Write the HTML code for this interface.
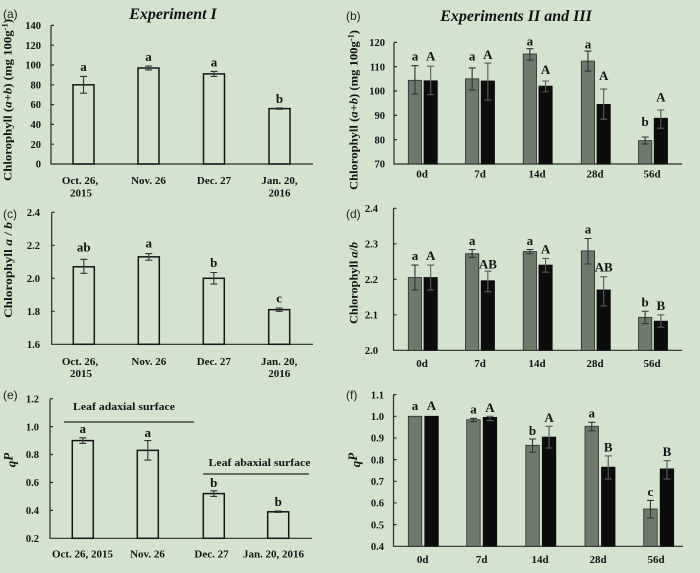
<!DOCTYPE html>
<html>
<head>
<meta charset="utf-8">
<style>
html,body{margin:0;padding:0;background:#d3e3cd;}
svg{display:block;}
text{font-family:"Liberation Serif",serif;fill:#141414;}
.tk{font-size:10.5px;font-weight:bold;text-anchor:end;}
.xl{font-size:11px;font-weight:bold;text-anchor:middle;}
.sg{font-size:13px;font-weight:bold;text-anchor:middle;}
.pl{font-family:"Liberation Sans",sans-serif;font-size:12px;fill:#222;}
.ax{stroke:#263026;stroke-width:1.2;fill:none;}
.ob{fill:none;stroke:#161616;stroke-width:1.5;}
.gb{fill:#6d7a6b;stroke:#2a2a2a;stroke-width:0.8;}
.kb{fill:#0c0c0c;stroke:#0c0c0c;stroke-width:0.8;}
.eb{stroke:#333;stroke-width:1.1;fill:none;}
.ek{stroke:#5a5a5a;stroke-width:1.1;fill:none;}
</style>
</head>
<body>
<svg width="700" height="573" viewBox="0 0 700 573" xmlns="http://www.w3.org/2000/svg">
<rect x="0" y="0" width="700" height="573" fill="#d3e3cd"/>

<!-- Titles -->
<text x="173" y="19" font-size="16" font-weight="bold" font-style="italic" text-anchor="middle">Experiment I</text>
<text x="516" y="21" font-size="16" font-weight="bold" font-style="italic" text-anchor="middle">Experiments II and III</text>

<!-- Panel labels -->
<text class="pl" x="3" y="18">(a)</text>
<text class="pl" x="346" y="20">(b)</text>
<text class="pl" x="3" y="218">(c)</text>
<text class="pl" x="346" y="218">(d)</text>
<text class="pl" x="3" y="399">(e)</text>
<text class="pl" x="346" y="399">(f)</text>

<!-- ================= Panel (a) ================= -->
<text transform="translate(11.5,100) rotate(-90)" text-anchor="middle" font-size="12" font-weight="bold" textLength="162" lengthAdjust="spacingAndGlyphs">Chlorophyll (<tspan font-style="italic">a</tspan>+<tspan font-style="italic">b</tspan>) (mg 100g<tspan dy="-4" font-size="8">-1</tspan><tspan dy="4">)</tspan></text>
<path class="ax" d="M51,25.4 V164 H313"/>
<path class="ax" d="M51,25.4h3M51,45.2h3M51,65h3M51,84.8h3M51,104.6h3M51,124.4h3M51,144.2h3"/>
<text class="tk" x="41" y="29">140</text>
<text class="tk" x="41" y="48.8">120</text>
<text class="tk" x="41" y="68.6">100</text>
<text class="tk" x="41" y="88.4">80</text>
<text class="tk" x="41" y="108.2">60</text>
<text class="tk" x="41" y="128">40</text>
<text class="tk" x="41" y="147.8">20</text>
<text class="tk" x="41" y="167.6">0</text>
<rect class="ob" x="73" y="84.8" width="21" height="79.2"/>
<rect class="ob" x="138" y="68" width="21" height="96"/>
<rect class="ob" x="203.5" y="73.9" width="21" height="90.1"/>
<rect class="ob" x="269" y="108.6" width="21" height="55.4"/>
<path class="eb" d="M83.5,93.2V76.4M80,93.2h7M80,76.4h7"/>
<path class="eb" d="M148.5,69.95V66M145,69.95h7M145,66h7"/>
<path class="eb" d="M214,76.4V71.4M210.5,76.4h7M210.5,71.4h7"/>
<path class="eb" d="M279.5,109.3V107.9M276,109.3h7M276,107.9h7"/>
<text class="sg" x="83.5" y="71">a</text>
<text class="sg" x="148.5" y="61">a</text>
<text class="sg" x="214" y="66.5">a</text>
<text class="sg" x="279.5" y="103">b</text>
<text class="xl" x="80" y="184">Oct. 26,</text>
<text class="xl" x="81" y="196.5">2015</text>
<text class="xl" x="148.5" y="184">Nov. 26</text>
<text class="xl" x="214" y="184">Dec. 27</text>
<text class="xl" x="279.5" y="184">Jan. 20,</text>
<text class="xl" x="279.5" y="196.5">2016</text>

<!-- ================= Panel (b) ================= -->
<text transform="translate(357.5,110) rotate(-90)" text-anchor="middle" font-size="12" font-weight="bold" textLength="160" lengthAdjust="spacingAndGlyphs">Chlorophyll (<tspan font-style="italic">a</tspan>+<tspan font-style="italic">b</tspan>) (mg 100g<tspan dy="-4" font-size="8">-1</tspan><tspan dy="4">)</tspan></text>
<path class="ax" d="M394,42.35 V164 H682"/>
<path class="ax" d="M394,42.35h3M394,66.68h3M394,91h3M394,115.34h3M394,139.67h3"/>
<text class="tk" x="385" y="46">120</text>
<text class="tk" x="385" y="70.3">110</text>
<text class="tk" x="385" y="94.6">100</text>
<text class="tk" x="385" y="119">90</text>
<text class="tk" x="385" y="143.3">80</text>
<text class="tk" x="385" y="167.6">70</text>
<!-- bars -->
<rect class="gb" x="408.3" y="80.3" width="13.3" height="83.7"/>
<rect class="kb" x="424" y="80.8" width="13.3" height="83.2"/>
<rect class="gb" x="465.5" y="78.85" width="13.3" height="85.15"/>
<rect class="kb" x="481.2" y="81" width="13.3" height="83"/>
<rect class="gb" x="523.2" y="54.03" width="13.3" height="109.97"/>
<rect class="kb" x="538.9" y="86.14" width="13.3" height="77.86"/>
<rect class="gb" x="581.3" y="61.08" width="13.3" height="102.92"/>
<rect class="kb" x="597" y="104.4" width="13.3" height="59.6"/>
<rect class="gb" x="638.5" y="140.64" width="13.3" height="23.36"/>
<rect class="kb" x="654.2" y="118.26" width="13.3" height="45.74"/>
<!-- errors -->
<path class="eb" d="M414.95,93.93V65.7M411.5,93.93h7M411.5,65.7h7"/>
<path class="ek" d="M430.65,94.66V66.2M427.2,94.66h7M427.2,66.2h7"/>
<path class="eb" d="M472.15,90.04V67.9M468.7,90.04h7M468.7,67.9h7"/>
<path class="ek" d="M487.85,100V63.03M484.4,100h7M484.4,63.03h7"/>
<path class="eb" d="M529.85,60.1V48.7M526.4,60.1h7M526.4,48.7h7"/>
<path class="ek" d="M545.55,91.74V81M542.1,91.74h7M542.1,81h7"/>
<path class="eb" d="M587.95,71.06V51.1M584.5,71.06h7M584.5,51.1h7"/>
<path class="ek" d="M603.65,119.2V89.06M600.2,119.2h7M600.2,89.06h7"/>
<path class="eb" d="M645.15,144.05V137M641.7,144.05h7M641.7,137h7"/>
<path class="ek" d="M660.85,128.23V110M657.4,128.23h7M657.4,110h7"/>
<!-- letters -->
<text class="sg" x="414.95" y="60.5">a</text>
<text class="sg" x="430.65" y="60.5">A</text>
<text class="sg" x="472.15" y="60.7">a</text>
<text class="sg" x="487.85" y="59">A</text>
<text class="sg" x="529.85" y="45.7">a</text>
<text class="sg" x="545.55" y="74">A</text>
<text class="sg" x="587.95" y="48.5">a</text>
<text class="sg" x="603.65" y="80">A</text>
<text class="sg" x="645.15" y="126">b</text>
<text class="sg" x="660.85" y="101.7">A</text>
<text class="xl" x="422" y="177.5">0d</text>
<text class="xl" x="480" y="177.5">7d</text>
<text class="xl" x="537" y="177.5">14d</text>
<text class="xl" x="595" y="177.5">28d</text>
<text class="xl" x="652" y="177.5">56d</text>

<!-- ================= Panel (c) ================= -->
<text transform="translate(12,270) rotate(-90)" text-anchor="middle" font-size="12" font-weight="bold" textLength="96" lengthAdjust="spacingAndGlyphs">Chlorophyll <tspan font-style="italic">a</tspan> / <tspan font-style="italic">b</tspan></text>
<path class="ax" d="M51.7,212.3 V344.3 H313"/>
<path class="ax" d="M51.7,212.3h3M51.7,245.3h3M51.7,278.3h3M51.7,311.3h3"/>
<text class="tk" x="40" y="216">2.4</text>
<text class="tk" x="40" y="249">2.2</text>
<text class="tk" x="40" y="282">2.0</text>
<text class="tk" x="40" y="315">1.8</text>
<text class="tk" x="40" y="348">1.6</text>
<rect class="ob" x="73.3" y="266.75" width="21" height="77.55"/>
<rect class="ob" x="138.3" y="256.85" width="21" height="87.45"/>
<rect class="ob" x="203.3" y="278.3" width="21" height="66"/>
<rect class="ob" x="268.7" y="309.65" width="21" height="34.65"/>
<path class="eb" d="M83.8,273.35V259.3M80.3,273.35h7M80.3,259.3h7"/>
<path class="eb" d="M148.8,260.15V253.55M145.3,260.15h7M145.3,253.55h7"/>
<path class="eb" d="M213.8,284.1V272.5M210.3,284.1h7M210.3,272.5h7"/>
<path class="eb" d="M279.2,311.3V308M275.7,311.3h7M275.7,308h7"/>
<text class="sg" x="83.8" y="251.5">ab</text>
<text class="sg" x="148.8" y="247.5">a</text>
<text class="sg" x="213.8" y="267">b</text>
<text class="sg" x="279.2" y="302.5">c</text>
<text class="xl" x="80" y="365">Oct. 26,</text>
<text class="xl" x="81" y="377">2015</text>
<text class="xl" x="148.8" y="365">Nov. 26</text>
<text class="xl" x="213.8" y="365">Dec. 27</text>
<text class="xl" x="279.2" y="365">Jan. 20,</text>
<text class="xl" x="279.2" y="377">2016</text>

<!-- ================= Panel (d) ================= -->
<text transform="translate(357.5,283) rotate(-90)" text-anchor="middle" font-size="11.5" font-weight="bold" textLength="82" lengthAdjust="spacingAndGlyphs">Chlorophyll <tspan font-style="italic">a</tspan>/<tspan font-style="italic">b</tspan></text>
<path class="ax" d="M393.5,208.3 V350.3 H682"/>
<path class="ax" d="M393.5,208.3h3M393.5,243.8h3M393.5,279.3h3M393.5,314.8h3"/>
<text class="tk" x="378" y="212">2.4</text>
<text class="tk" x="378" y="247.5">2.3</text>
<text class="tk" x="378" y="283">2.2</text>
<text class="tk" x="378" y="318.5">2.1</text>
<text class="tk" x="378" y="354">2.0</text>
<rect class="gb" x="408.3" y="277.53" width="13.3" height="72.77"/>
<rect class="kb" x="424" y="277.53" width="13.3" height="72.77"/>
<rect class="gb" x="465.5" y="253.74" width="13.3" height="96.56"/>
<rect class="kb" x="481.2" y="280.72" width="13.3" height="69.58"/>
<rect class="gb" x="523.2" y="251.6" width="13.3" height="98.7"/>
<rect class="kb" x="538.9" y="265.1" width="13.3" height="85.2"/>
<rect class="gb" x="581.3" y="250.9" width="13.3" height="99.4"/>
<rect class="kb" x="597" y="289.95" width="13.3" height="60.35"/>
<rect class="gb" x="638.5" y="317.3" width="13.3" height="33"/>
<rect class="kb" x="654.2" y="321.2" width="13.3" height="29.1"/>
<path class="eb" d="M414.95,289.95V265.1M411.5,289.95h7M411.5,265.1h7"/>
<path class="ek" d="M430.65,289.95V265.1M427.2,289.95h7M427.2,265.1h7"/>
<path class="eb" d="M472.15,257.3V249.5M468.7,257.3h7M468.7,249.5h7"/>
<path class="ek" d="M487.85,291.7V271.1M484.4,291.7h7M484.4,271.1h7"/>
<path class="eb" d="M529.85,253.74V249.5M526.4,253.74h7M526.4,249.5h7"/>
<path class="ek" d="M545.55,272.2V258.4M542.1,272.2h7M542.1,258.4h7"/>
<path class="eb" d="M587.95,264V238.5M584.5,264h7M584.5,238.5h7"/>
<path class="ek" d="M603.65,305.9V276.8M600.2,305.9h7M600.2,276.8h7"/>
<path class="eb" d="M645.15,323.7V311.25M641.7,323.7h7M641.7,311.25h7"/>
<path class="ek" d="M660.85,327.2V314.8M657.4,327.2h7M657.4,314.8h7"/>
<text class="sg" x="414.95" y="260">a</text>
<text class="sg" x="430.65" y="260">A</text>
<text class="sg" x="472.15" y="245">a</text>
<text class="sg" x="487.85" y="268.3">AB</text>
<text class="sg" x="529.85" y="245">a</text>
<text class="sg" x="545.55" y="253.3">A</text>
<text class="sg" x="587.95" y="233.3">a</text>
<text class="sg" x="603.65" y="271.7">AB</text>
<text class="sg" x="645.15" y="306.7">b</text>
<text class="sg" x="660.85" y="310">B</text>
<text class="xl" x="422" y="367">0d</text>
<text class="xl" x="480" y="367">7d</text>
<text class="xl" x="537" y="367">14d</text>
<text class="xl" x="595" y="367">28d</text>
<text class="xl" x="652" y="367">56d</text>

<!-- ================= Panel (e) ================= -->
<text transform="translate(15.5,460) rotate(-90)" text-anchor="middle" font-size="13" font-weight="bold" font-style="italic">q<tspan dy="-3">P</tspan></text>
<path class="ax" d="M50,398.7 V538.3 H312"/>
<path class="ax" d="M50,398.7h3M50,426.6h3M50,454.5h3M50,482.5h3M50,510.4h3"/>
<text class="tk" x="39" y="402.4">1.2</text>
<text class="tk" x="39" y="430.3">1.0</text>
<text class="tk" x="39" y="458.2">0.8</text>
<text class="tk" x="39" y="486.2">0.6</text>
<text class="tk" x="39" y="514.1">0.4</text>
<text class="tk" x="39" y="542">0.2</text>
<rect class="ob" x="72.3" y="440.6" width="21" height="97.7"/>
<rect class="ob" x="137.3" y="450.35" width="21" height="87.95"/>
<rect class="ob" x="203.3" y="493.6" width="21" height="44.7"/>
<rect class="ob" x="267.7" y="511.8" width="21" height="26.5"/>
<path class="eb" d="M82.8,443.4V437.8M79.3,443.4h7M79.3,437.8h7"/>
<path class="eb" d="M147.8,460.1V440.6M144.3,460.1h7M144.3,440.6h7"/>
<path class="eb" d="M213.8,496.4V490.8M210.3,496.4h7M210.3,490.8h7"/>
<path class="eb" d="M278.2,512.5V511.1M274.7,512.5h7M274.7,511.1h7"/>
<text class="sg" x="82.8" y="433">a</text>
<text class="sg" x="147.8" y="437">a</text>
<text class="sg" x="213.8" y="487">b</text>
<text class="sg" x="278.2" y="506">b</text>
<line x1="64" y1="422" x2="194" y2="422" stroke="#263026" stroke-width="1.2"/>
<text x="124" y="410" font-size="11" font-weight="bold" text-anchor="middle" textLength="102" lengthAdjust="spacingAndGlyphs">Leaf adaxial surface</text>
<line x1="203" y1="474" x2="309" y2="474" stroke="#263026" stroke-width="1.2"/>
<text x="259.5" y="466" font-size="11" font-weight="bold" text-anchor="middle" textLength="102" lengthAdjust="spacingAndGlyphs">Leaf abaxial surface</text>
<text class="xl" x="82.5" y="557.5">Oct. 26, 2015</text>
<text class="xl" x="147.5" y="557.5">Nov. 26</text>
<text class="xl" x="211.5" y="557.5">Dec. 27</text>
<text class="xl" x="273.5" y="557.5">Jan. 20, 2016</text>

<!-- ================= Panel (f) ================= -->
<text transform="translate(360,460) rotate(-90)" text-anchor="middle" font-size="13" font-weight="bold" font-style="italic">q<tspan dy="-3">P</tspan></text>
<path class="ax" d="M393.5,394.6 V546.3 H683"/>
<path class="ax" d="M393.5,394.6h3M393.5,416.3h3M393.5,437.95h3M393.5,459.6h3M393.5,481.3h3M393.5,502.96h3M393.5,524.6h3"/>
<text class="tk" x="384" y="398.3">1.1</text>
<text class="tk" x="384" y="420">1.0</text>
<text class="tk" x="384" y="441.7">0.9</text>
<text class="tk" x="384" y="463.3">0.8</text>
<text class="tk" x="384" y="485">0.7</text>
<text class="tk" x="384" y="506.7">0.6</text>
<text class="tk" x="384" y="528.3">0.5</text>
<text class="tk" x="384" y="550">0.4</text>
<rect class="gb" x="408.3" y="416.28" width="13.5" height="130.02"/>
<rect class="kb" x="424.8" y="416.28" width="13.5" height="130.02"/>
<rect class="gb" x="466.7" y="419.75" width="13.5" height="126.55"/>
<rect class="kb" x="483.2" y="417.4" width="13.5" height="128.9"/>
<rect class="gb" x="525.8" y="445.3" width="13.5" height="101"/>
<rect class="kb" x="542.3" y="437.1" width="13.5" height="109.2"/>
<rect class="gb" x="585" y="426.3" width="13.5" height="120"/>
<rect class="kb" x="601.5" y="467.2" width="13.5" height="79.1"/>
<rect class="gb" x="643.7" y="509" width="13.5" height="37.3"/>
<rect class="kb" x="660.2" y="468.9" width="13.5" height="77.4"/>
<path class="eb" d="M473.45,421.7V418.4M470,421.7h7M470,418.4h7"/>
<path class="ek" d="M489.95,420.6V416.3M486.5,420.6h7M486.5,416.3h7"/>
<path class="eb" d="M532.55,452.25V439M529.1,452.25h7M529.1,439h7"/>
<path class="ek" d="M549.05,448V426.3M545.6,448h7M545.6,426.3h7"/>
<path class="eb" d="M591.75,430.8V422.35M588.3,430.8h7M588.3,422.35h7"/>
<path class="ek" d="M608.25,479.1V455.9M604.8,479.1h7M604.8,455.9h7"/>
<path class="eb" d="M650.45,518.1V500.4M647,518.1h7M647,500.4h7"/>
<path class="ek" d="M666.95,479.1V460.7M663.5,479.1h7M663.5,460.7h7"/>
<text class="sg" x="415" y="410">a</text>
<text class="sg" x="431.5" y="410">A</text>
<text class="sg" x="473.45" y="413.5">a</text>
<text class="sg" x="489.95" y="412">A</text>
<text class="sg" x="532.55" y="435">b</text>
<text class="sg" x="549.05" y="422">A</text>
<text class="sg" x="591.75" y="417.5">a</text>
<text class="sg" x="608.25" y="451.5">B</text>
<text class="sg" x="650.45" y="496">c</text>
<text class="sg" x="666.95" y="456">B</text>
<text class="xl" x="422.7" y="563">0d</text>
<text class="xl" x="481.7" y="563">7d</text>
<text class="xl" x="540" y="563">14d</text>
<text class="xl" x="598" y="563">28d</text>
<text class="xl" x="656" y="563">56d</text>
</svg>
</body>
</html>
